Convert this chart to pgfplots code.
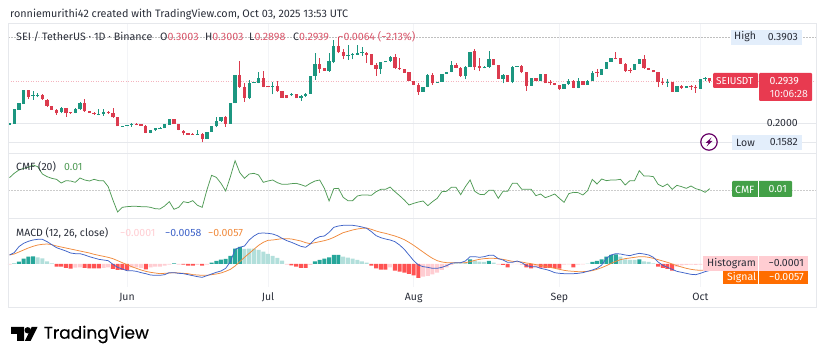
\documentclass[border=0pt]{standalone}
\usepackage{pgfplots}
\usepackage{pgfplotstable}
\usepackage{fontspec}
\pgfplotsset{compat=1.18}
\setmainfont{Fira Sans}
\newfontfamily\logofont{Poppins}[Scale=1]
\definecolor{cup}{HTML}{1C9680}
\definecolor{cdn}{HTML}{DB3B4E}
\definecolor{boxr}{HTML}{E83A50}
\definecolor{boxg}{HTML}{43A047}
\definecolor{boxo}{HTML}{FF6D00}
\definecolor{hup}{HTML}{26A69A}
\definecolor{hupl}{HTML}{B2DFDB}
\definecolor{hdn}{HTML}{FF5252}
\definecolor{hdnl}{HTML}{FFCDD2}
\definecolor{macdb}{HTML}{3F63C8}
\definecolor{sigo}{HTML}{F08A3C}
\definecolor{cmfg}{HTML}{4F9A55}
\definecolor{txt}{HTML}{2A2E39}
\definecolor{frame}{HTML}{E6E8EC}
\definecolor{gridc}{HTML}{F3F4F7}
\definecolor{lblue}{HTML}{E3EEFB}
\definecolor{redv}{HTML}{D9566A}
\definecolor{pline}{HTML}{F4B4BE}

% d open high low close
\pgfplotstableread{
d o h l c
-25 .1976 .2005 .1976 .2005
-24 .1990 .2313 .1990 .2313
-23 .2298 .2452 .2298 .2452
-22 .2437 .2745 .2437 .2745
-20 .2613 .2723 .2518 .2628
-19 .2613 .2665 .2577 .2628
-14 .2254 .2371 .2225 .2335
-11 .2239 .2335 .2225 .2313
-10 .2313 .2474 .2298 .2452
-6 .2210 .2313 .2181 .2217
-5 .2210 .2313 .2166 .2261
-1 .1932 .1946 .1924 .1939
0 .1946 .1961 .1939 .1961
1 .1968 .2005 .1924 .1983
5 .1800 .1851 .1785 .1851
6 .1851 .1910 .1844 .1895
7 .1895 .1917 .1895 .1910
8 .1895 .1983 .1895 .1983
9 .1976 .2093 .1976 .2093
15 .1763 .1858 .1748 .1778
17 .1668 .1814 .1668 .1814
18 .1814 .1946 .1814 .1946
19 .1939 .2151 .1917 .2056
20 .2056 .2151 .2042 .2137
22 .1990 .2452 .1990 .2452
23 .2445 .3075 .2445 .3075
26 .2562 .2958 .2533 .2899
27 .2899 .2921 .2892 .2914
28 .2892 .3141 .2884 .3002
31 .2811 .2921 .2643 .2826
35 .2620 .2679 .2606 .2650
37 .2562 .2628 .2503 .2606
38 .2606 .2679 .2591 .2650
39 .2650 .3053 .2650 .3053
40 .3045 .3559 .2957 .3309
43 .3155 .3559 .3141 .3368
44 .3361 .3837 .3324 .3705
47 .3493 .3734 .3397 .3507
48 .3507 .3559 .3412 .3529
49 .3515 .3720 .3507 .3551
50 .3551 .3690 .3485 .3573
54 .3192 .3353 .3089 .3346
55 .3346 .3383 .3346 .3383
56 .3375 .3485 .3361 .3471
63 .2694 .2811 .2694 .2811
64 .2811 .3082 .2796 .3067
66 .2899 .2921 .2899 .2921
67 .2914 .3089 .2914 .3089
68 .3089 .3141 .3089 .3141
69 .3141 .3383 .3126 .3295
72 .3045 .3265 .2972 .3236
73 .3236 .3581 .3236 .3581
76 .3229 .3265 .3214 .3251
77 .3243 .3588 .3229 .3419
80 .2987 .3089 .2884 .3075
82 .2914 .3265 .2884 .3243
83 .3251 .3272 .3251 .3265
86 .2833 .3001 .2833 .3001
88 .2928 .3089 .2928 .3089
93 .2760 .2862 .2760 .2862
94 .2862 .2972 .2848 .2943
96 .2782 .2994 .2775 .2936
98 .2855 .2950 .2855 .2943
99 .2943 .3163 .2936 .3119
101 .3068 .3199 .3068 .3199
102 .3199 .3361 .3199 .3361
103 .3361 .3441 .3361 .3441
108 .3177 .3317 .3177 .3317
109 .3317 .3427 .3317 .3427
115 .2899 .2972 .2811 .2921
117 .2694 .2833 .2694 .2833
119 .2789 .2826 .2789 .2826
122 .2760 .2972 .2760 .2972
123 .2980 .3016 .2943 .2994
}\upT
\pgfplotstableread{
d o h l c
-21 .2745 .2745 .2533 .2591
-18 .2635 .2650 .2518 .2533
-17 .2525 .2540 .2371 .2386
-16 .2386 .2386 .2305 .2305
-15 .2291 .2313 .2195 .2225
-13 .2335 .2349 .2151 .2225
-12 .2254 .2261 .2210 .2232
-9 .2452 .2533 .2254 .2269
-8 .2269 .2276 .2232 .2239
-7 .2239 .2254 .2188 .2210
-4 .2247 .2276 .2217 .2232
-3 .2239 .2342 .2122 .2137
-2 .2137 .2137 .1939 .1939
2 .1990 .2005 .1961 .1983
3 .1983 .1990 .1954 .1954
4 .1946 .1961 .1785 .1800
10 .2093 .2093 .1990 .1990
11 .1990 .1990 .1851 .1858
12 .1844 .1858 .1741 .1785
13 .1800 .1800 .1756 .1756
14 .1778 .1785 .1763 .1763
16 .1770 .1785 .1582 .1668
21 .2137 .2166 .1932 .1990
24 .3075 .3376 .2789 .2804
25 .2804 .2884 .2474 .2562
29 .3002 .3156 .2797 .2804
30 .2819 .2819 .2797 .2797
32 .2826 .2943 .2701 .2716
33 .2723 .2723 .2569 .2569
34 .2620 .2620 .2554 .2569
36 .2650 .2650 .2554 .2554
41 .3309 .3441 .3119 .3207
42 .3214 .3214 .3155 .3155
45 .3705 .3903 .3544 .3566
46 .3573 .3632 .3412 .3493
51 .3559 .3581 .3339 .3507
52 .3522 .3529 .3280 .3295
53 .3295 .3324 .3045 .3192
57 .3463 .3529 .3207 .3214
58 .3229 .3441 .3177 .3192
59 .3199 .3199 .3119 .3119
60 .3133 .3133 .2943 .2943
61 .2943 .2943 .2848 .2848
62 .2848 .2884 .2628 .2686
65 .3060 .3119 .2848 .2884
70 .3295 .3324 .3214 .3229
71 .3229 .3251 .3031 .3045
74 .3588 .3647 .3177 .3236
75 .3265 .3441 .3148 .3214
78 .3427 .3427 .3280 .3280
79 .3280 .3280 .2987 .2987
81 .3075 .3075 .2914 .2914
84 .3265 .3280 .3104 .3126
85 .3126 .3141 .2723 .2833
87 .2994 .3001 .2928 .2928
89 .3089 .3089 .2884 .2884
90 .2914 .2958 .2848 .2884
91 .2884 .2899 .2840 .2855
92 .2848 .2855 .2745 .2752
95 .2936 .2950 .2775 .2782
97 .2928 .2936 .2855 .2855
100 .3141 .3192 .3031 .3104
104 .3449 .3566 .3412 .3427
105 .3449 .3449 .3317 .3317
106 .3317 .3339 .3141 .3163
107 .3177 .3214 .3104 .3156
110 .3427 .3507 .3199 .3214
111 .3229 .3229 .3185 .3185
112 .3185 .3185 .3126 .3126
113 .3141 .3141 .2796 .2906
114 .2921 .2994 .2848 .2899
116 .2914 .2914 .2694 .2694
118 .2833 .2848 .2760 .2789
120 .2826 .2848 .2738 .2796
121 .2811 .2848 .2679 .2774
124 .3003 .3003 .2898 .2939
}\downT

\newcommand\lab[4][]{\node[anchor=west,inner sep=0pt,text=txt,font=\fontsize{#4}{#4}\selectfont,#1] at (#2) {#3};}
\newcommand\labr[4][]{\node[anchor=east,inner sep=0pt,text=txt,font=\fontsize{#4}{#4}\selectfont,#1] at (#2) {#3};}
\pgfplotsset{pane/.style={
  anchor=south west, scale only axis, width=808pt,
  xmin=-25.32, xmax=146.6,
  axis line style={draw=none}, major tick length=0pt,
  xtick={0,30,61,92,122}, xticklabels={},
  yticklabels={},
  xmajorgrids, x grid style={gridc,line width=.6pt},
  ymajorgrids, clip=true,
},
candle/.style n args={2}{draw=none,mark=none,forget plot,error bars/.cd,y dir=plus,y explicit,error mark=none,
  error bar style={draw=#1,line width=#2,solid}}}
\begin{document}
\begin{tikzpicture}[x=1pt,y=1pt]
\path (0,0) rectangle (825,361);

% main price pane
\begin{axis}[pane, at={(8pt,208pt)}, height=130pt, ymin=0.1351, ymax=0.4211,
  ytick={0.2,0.1582}, y grid style={frame,line width=.6pt}]
\addplot[draw=black!25,dash pattern=on 1.5pt off 1.5pt,line width=.4pt,forget plot,mark=none] coordinates {(-25.3,.3903) (146.6,.3903)};
\addplot[draw=pline,dash pattern=on 1pt off 1.5pt,line width=.6pt,forget plot,mark=none] coordinates {(-25.3,.2939) (146.6,.2939)};
\addplot[candle={cup}{.7pt}] table[x=d,y=l,y error plus expr=\thisrow{h}-\thisrow{l}] {\upT};
\addplot[candle={cdn}{.7pt}] table[x=d,y=l,y error plus expr=\thisrow{h}-\thisrow{l}] {\downT};
\addplot[candle={cup}{3.3pt}] table[x=d,y=o,y error plus expr=\thisrow{c}-\thisrow{o}] {\upT};
\addplot[candle={cdn}{3.3pt}] table[x=d,y=c,y error plus expr=\thisrow{o}-\thisrow{c}] {\downT};
\end{axis}

% CMF pane
\begin{axis}[pane, at={(8pt,143pt)}, height=65pt, ymin=-0.21, ymax=0.2775,
  ytick=\empty]
\addplot[draw=black!20,dash pattern=on 1.5pt off 1.5pt,line width=.4pt,forget plot,mark=none] coordinates {(-25.3,0) (146.6,0)};
\addplot[cmfg,line width=.75pt,mark=none] coordinates {
(-25,.0925)(-24,.125)(-23,.15)(-22,.1625)(-21,.17)(-20,.1875)(-19,.175)(-18,.12)(-17,.10)(-16,.0875)
(-15,.08)(-14,.0525)(-13,.07)(-12,.0675)(-11,.0575)(-10,.09)(-9,.075)(-8,.0675)(-7,.08)(-6,.07)
(-5,.07)(-4,.025)(-3,-.075)(-2,-.165)(-1,-.13)(0,-.125)(1,-.1225)(2,-.1225)(3,-.125)(4,-.125)
(5,-.13)(6,-.14)(7,-.1425)(8,-.12)(9,-.0875)(10,-.145)(11,-.13)(12,-.0875)(13,-.095)(14,-.08)
(15,-.115)(16,-.13)(17,0)(18,.11)(19,.095)(20,.05)(21,-.0075)(22,.10)(23,.22)(24,.13)
(25,.0875)(26,.12)(27,.125)(28,.1125)(29,.0575)(30,.0675)(31,.075)(32,.055)(33,.0425)(34,.0425)
(35,.0475)(36,.05)(37,.04)(38,.0275)(39,.05)(40,.0675)(41,.075)(42,.0125)(43,-.0825)(44,.01)
(45,.0125)(46,-.055)(47,-.08)(48,-.08)(49,-.045)(50,-.0375)(51,-.0375)(52,-.04)(53,-.0125)(54,.005)
(55,.005)(56,.0225)(57,-.0125)(58,-.0425)(59,-.075)(60,-.1125)(61,-.10)(62,-.09)(63,-.0825)(64,-.1175)
(65,-.0875)(66,-.0625)(67,-.0125)(68,-.01)(69,.02)(70,.02)(71,-.035)(72,.025)(73,.075)(74,-.01)
(75,-.0325)(76,-.035)(77,-.0025)(78,-.0025)(79,-.0625)(80,-.01)(81,-.01)(82,.05)(83,.05)(84,.005)
(85,.005)(86,.005)(87,-.0425)(88,-.03)(89,-.0575)(90,-.045)(91,-.03)(92,-.0625)(93,-.0925)(94,-.0275)
(95,-.0175)(96,-.02)(97,-.0375)(98,-.005)(99,.08)(100,.045)(101,.0825)(102,.07)(103,.075)(104,.075)
(105,.08)(106,.0375)(107,.07)(108,.07)(109,.145)(110,.105)(111,.105)(112,.10)(113,.0425)(114,.025)
(115,.045)(116,.005)(117,.035)(118,.025)(119,.0125)(120,.03)(121,.01)(122,0)(123,-.0175)(124,.01)
};
\end{axis}

% MACD pane
\begin{axis}[pane, at={(8pt,74pt)}, height=69pt, ymin=-0.0207, ymax=0.0414,
  ytick=\empty, xticklabels={Jun,Jul,Aug,Sep,Oct},
  xticklabel style={font=\fontsize{10.5}{10.5}\selectfont,text=txt,yshift=-2.5pt},
  ybar, bar width=4pt, bar shift=0pt]
\addplot[fill=hup,draw=none] coordinates {(-24,.0003)(-23,.0021)(-22,.0048)(-21,.0066)(-20,.0069)(10,.0006)(18,.0012)(19,.0027)(20,.0039)(21,.0045)(22,.0072)(23,.0138)(24,.0153)(40,.0024)(41,.0036)(42,.0048)(43,.006)(44,.0081)(45,.0081)(73,.0042)(77,.0027)(99,.0018)(100,.0027)(101,.0042)(102,.0066)(103,.0081)(104,.0087)(109,.0042)};
\addplot[fill=hupl,draw=none] coordinates {(-19,.006)(-18,.0051)(-17,.0024)(-16,.0006)(25,.0135)(26,.0138)(27,.0138)(28,.0126)(29,.0111)(30,.009)(31,.0072)(32,.0054)(33,.003)(46,.0066)(47,.0057)(48,.0048)(49,.0036)(50,.0024)(51,.0012)(70,.0006)(71,.0006)(72,.0012)(74,.003)(75,.0021)(76,.0018)(78,.0012)(98,.0003)(105,.0066)(106,.0042)(107,.0036)(108,.0036)(110,.0024)(111,.0018)(112,.0006)};
\addplot[fill=hdn,draw=none] coordinates {(-15,-.0024)(-14,-.0024)(-13,-.0036)(-12,-.0042)(-9,-.0036)(-8,-.0039)(-7,-.0039)(-6,-.0039)(-3,-.0045)(-2,-.0054)(-1,-.0054)(0,-.0057)(4,-.0048)(12,-.0006)(13,-.0015)(14,-.0015)(16,-.0015)(35,-.0012)(36,-.0024)(37,-.0036)(38,-.0036)(52,-.0015)(53,-.0039)(54,-.0051)(55,-.0051)(57,-.006)(58,-.0069)(59,-.0078)(60,-.009)(61,-.0102)(62,-.0126)(80,-.0009)(81,-.003)(85,-.003)(86,-.0039)(88,-.0033)(89,-.0036)(90,-.0036)(91,-.0036)(92,-.0042)(95,-.003)(113,-.0024)(114,-.0036)(115,-.0045)(116,-.006)};
\addplot[fill=hdnl,draw=none] coordinates {(-25,-.0006)(-11,-.0033)(-10,-.003)(-5,-.0036)(-4,-.003)(1,-.003)(2,-.003)(3,-.0036)(5,-.003)(6,-.0024)(7,-.0024)(8,-.0015)(9,-.0006)(11,-.0006)(15,-.0009)(17,-.0006)(34,-.0006)(39,-.0009)(56,-.003)(63,-.0114)(64,-.0108)(65,-.0093)(66,-.0078)(67,-.0054)(68,-.003)(69,-.0009)(79,-.0006)(82,-.0001)(83,-.0001)(84,-.0009)(87,-.003)(93,-.0006)(94,-.0003)(96,-.0006)(97,-.0003)(117,-.0024)(118,-.0012)(119,-.0009)(120,-.0006)(121,-.0009)(122,-.0006)(123,-.0003)(124,-.0001)};
\addplot[sharp plot,sigo,line width=.75pt,mark=none,ybar legend] coordinates {
(-25,.0081)(-24,.009)(-23,.0108)(-22,.0126)(-21,.0144)(-20,.0159)(-19,.0171)(-18,.0177)(-17,.018)(-16,.0174)
(-15,.0162)(-14,.0153)(-13,.0144)(-12,.0135)(-11,.0126)(-10,.0117)(-9,.0108)(-8,.0099)(-7,.0087)(-6,.0078)
(-5,.0069)(-4,.006)(-3,.0048)(-2,.003)(-1,.0012)(0,-.0006)(1,-.0024)(2,-.0039)(3,-.0054)(4,-.0066)
(5,-.0075)(6,-.0081)(7,-.0087)(8,-.0084)(9,-.0081)(10,-.0078)(11,-.0081)(12,-.0084)(13,-.0087)(14,-.0096)
(15,-.0099)(16,-.0102)(17,-.0102)(18,-.0096)(19,-.009)(20,-.0081)(21,-.0066)(22,-.0048)(23,-.0018)(24,.0021)
(25,.006)(26,.0096)(27,.0132)(28,.0168)(29,.0195)(30,.0213)(31,.0216)(32,.0222)(33,.0228)(34,.0228)
(35,.0225)(36,.0216)(37,.0207)(38,.0192)(39,.0183)(40,.0192)(41,.0201)(42,.021)(43,.0222)(44,.024)
(45,.0261)(46,.0282)(47,.0294)(48,.0306)(49,.0315)(50,.0321)(51,.0324)(52,.0312)(53,.0297)(54,.0285)
(55,.0276)(56,.0264)(57,.0252)(58,.0237)(59,.0219)(60,.0195)(61,.0168)(62,.0138)(63,.0108)(64,.0078)
(65,.0051)(66,.003)(67,.0018)(68,.0012)(69,.0012)(70,.0012)(71,.0012)(72,.0012)(73,.0021)(74,.0033)
(75,.0042)(76,.0048)(77,.0051)(78,.0051)(79,.0048)(80,.0042)(81,.0033)(82,.0024)(83,.0021)(84,.0018)
(85,.0009)(86,.0003)(87,-.0006)(88,-.0012)(89,-.0021)(90,-.003)(91,-.0039)(92,-.0048)(93,-.0057)(94,-.0063)
(95,-.0066)(96,-.0069)(97,-.0069)(98,-.0066)(99,-.006)(100,-.0048)(101,-.0033)(102,-.0015)(103,.0006)(104,.0024)
(105,.0039)(106,.0048)(107,.0054)(108,.006)(109,.0066)(110,.0066)(111,.006)(112,.0051)(113,.0039)(114,.0027)
(115,.0015)(116,0)(117,-.0015)(118,-.0027)(119,-.0039)(120,-.0048)(121,-.0054)(122,-.0057)(123,-.0057)(124,-.0057)
};
\addplot[sharp plot,macdb,line width=.75pt,mark=none] coordinates {
(-25,.0081)(-24,.0102)(-23,.0156)(-22,.0186)(-21,.0204)(-20,.0216)(-19,.0222)(-18,.0222)(-17,.0201)(-16,.0174)
(-15,.0147)(-14,.0132)(-13,.0117)(-12,.0099)(-11,.0093)(-10,.0093)(-9,.0081)(-8,.0066)(-7,.0054)(-6,.0042)
(-5,.0036)(-4,.003)(-3,-.0003)(-2,-.003)(-1,-.0045)(0,-.006)(1,-.006)(2,-.0066)(3,-.0078)(4,-.0087)
(5,-.0099)(6,-.0102)(7,-.0102)(8,-.0096)(9,-.0078)(10,-.0078)(11,-.0084)(12,-.0087)(13,-.0096)(14,-.0105)
(15,-.0114)(16,-.012)(17,-.0105)(18,-.009)(19,-.0075)(20,-.0063)(21,-.0039)(22,.0021)(23,.0132)(24,.015)
(25,.0162)(26,.0216)(27,.0252)(28,.0276)(29,.0279)(30,.0276)(31,.027)(32,.0255)(33,.0231)(34,.021)
(35,.0195)(36,.0177)(37,.0159)(38,.015)(39,.018)(40,.0225)(41,.0246)(42,.0252)(43,.0285)(44,.033)
(45,.0342)(46,.0348)(47,.0348)(48,.0348)(49,.0342)(50,.0333)(51,.0321)(52,.0291)(53,.0255)(54,.0237)
(55,.0225)(56,.0216)(57,.0201)(58,.0171)(59,.0132)(60,.0081)(61,.003)(62,-.0009)(63,-.0024)(64,-.003)
(65,-.0039)(66,-.0039)(67,-.003)(68,-.0015)(69,.0006)(70,.0012)(71,.0012)(72,.0027)(73,.0066)(74,.0066)
(75,.006)(76,.0066)(77,.0078)(78,.0078)(79,.0048)(80,.0036)(81,.0015)(82,.0015)(83,.0027)(84,.0012)
(85,-.0015)(86,-.0024)(87,-.0024)(88,-.0039)(89,-.0048)(90,-.006)(91,-.0078)(92,-.0084)(93,-.0087)(94,-.0087)
(95,-.0087)(96,-.0084)(97,-.0078)(98,-.0066)(99,-.0054)(100,-.0039)(101,-.0009)(102,.0051)(103,.0081)(104,.0093)
(105,.009)(106,.0081)(107,.0075)(108,.0087)(109,.0096)(110,.009)(111,.0081)(112,.006)(113,.0018)(114,-.0012)
(115,-.003)(116,-.0048)(117,-.0066)(118,-.0075)(119,-.0084)(120,-.0093)(121,-.0096)(122,-.0084)(123,-.0069)(124,-.0058)
};
\end{axis}

% frame
\draw[frame,line width=.7pt] (8,361-23) rectangle (816,361-307);
\draw[frame,line width=.7pt] (8,361-153) -- (816,361-153);
\draw[frame,line width=.7pt] (8,361-218) -- (816,361-218);

% header text
\lab{10,361-14}{ronniemurithi42 created with TradingView.com, Oct 03, 2025 13:53 UTC}{10.8}
\lab{16,361-37}{SEI / TetherUS · 1D · Binance}{10.7}
\lab{160,361-37}{O\textcolor{redv}{0.3003}}{10.7}
\lab{205,361-37}{H\textcolor{redv}{0.3003}}{10.7}
\lab{249,361-37}{L\textcolor{redv}{0.2898}}{10.7}
\lab{293,361-37}{C\textcolor{redv}{0.2939}}{10.7}
\lab[text=redv]{338,361-37}{−0.0064 (−2.13\%)}{10.7}

% price scale
\fill[lblue] (731,361-30) rectangle (802,361-45);
\lab{734,361-37}{High}{10.5}
\labr{798,361-37.5}{0.3903}{10.5}
\labr{798,361-123}{0.2000}{10.5}
\fill[lblue] (732,361-135) rectangle (802,361-150);
\lab{736,361-142.5}{Low}{10.5}
\labr{798,361-142.5}{0.1582}{10.5}
\fill[boxr,rounded corners=1pt] (713,361-73) rectangle (758,361-88);
\fill[boxr,rounded corners=1pt] (759,361-73) rectangle (812,361-101);
\lab[text=white]{716,361-81}{SEIUSDT}{10}
\labr[text=white]{799,361-81}{0.2939}{10.5}
\labr[text=white!92!cdn]{808,361-94}{10:06:28}{10.5}
% lightning icon
\draw[violet!80!black,line width=1.2pt] (709,361-142) circle (8.2);
\fill[violet!80!black] (711.5,361-137.5) -- (705.5,361-143) -- (708.5,361-143) -- (706.5,361-146.5) -- (712.5,361-141) -- (709.5,361-141) -- cycle;

% CMF labels
\lab{16,361-167}{CMF (20)}{10.5}
\lab[text=cmfg]{64,361-167}{0.01}{10.5}
\fill[boxg,rounded corners=1pt] (732,361-181) rectangle (792,361-197);
\draw[white,line width=.4pt] (758,361-181) -- (758,361-197);
\lab[text=white]{735,361-189.5}{CMF}{10.5}
\labr[text=white]{787,361-189.5}{0.01}{10.5}

% MACD labels
\lab{16,361-233}{MACD (12, 26, close)}{10.5}
\lab[text=hdnl]{120,361-233}{−0.0001}{10.5}
\lab[text=macdb]{165,361-233}{−0.0058}{10.5}
\lab[text=sigo]{208,361-233}{−0.0057}{10.5}
\fill[hdnl] (703,361-256) rectangle (808,361-271);
\lab{707,361-263.5}{Histogram}{10.5}
\labr{804,361-263.5}{−0.0001}{10.5}
\fill[boxo] (723,361-271) rectangle (808,361-284);
\lab[text=white]{727,361-277.5}{Signal}{10.5}
\labr[text=white]{804,361-277.5}{−0.0057}{10.5}
\draw[white,line width=.4pt] (758,361-256) -- (758,361-284);

% logo
\fill[black] (11,361-327) -- (24,361-327) -- (24,361-341) -- (17,361-341) -- (17,361-334) -- (11,361-334) -- cycle;
\fill[black] (27.7,361-330.3) circle (3.2);
\fill[black] (37.5,361-327) -- (30.6,361-341) -- (24.8,361-341) -- (31.7,361-327) -- cycle;
\node[anchor=west,inner sep=0pt,text=black,font=\logofont\fontsize{17}{17}\selectfont\addfontfeatures{FakeBold=0.3}] at (43.5,361-334.5) {TradingView};
\end{tikzpicture}
\end{document}
